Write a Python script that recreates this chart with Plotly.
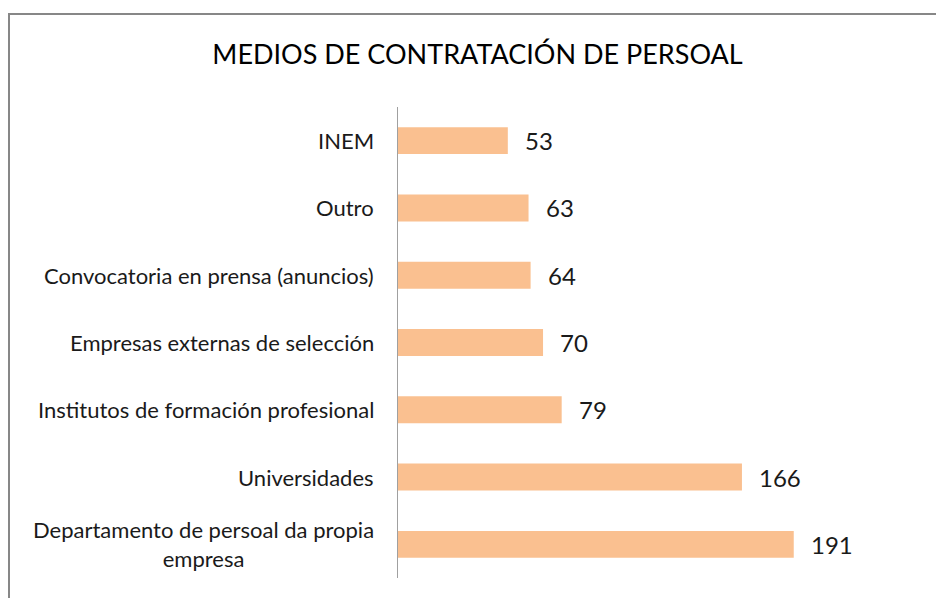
import plotly.graph_objects as go

categories = [
    "INEM",
    "Outro",
    "Convocatoria en prensa (anuncios)",
    "Empresas externas de selección",
    "Institutos de formación profesional",
    "Universidades",
    "Departamento de persoal da propia<br>empresa",
]
values = [53, 63, 64, 70, 79, 166, 191]
title_text = "MEDIOS DE CONTRATACIÓN DE PERSOAL"

FONT = "Lato"
TXT = "#1a1a1a"

fig = go.Figure(go.Bar(
    x=values, y=categories, orientation="h",
    marker=dict(color="#FAC090", line=dict(width=0)),
    width=0.4, hoverinfo="x+y",
))

annotations = []
for c, v in zip(categories, values):
    annotations.append(dict(
        x=0, y=c, xref="x", yref="y", text=c, showarrow=False,
        xanchor="right", yanchor="middle", xshift=-22, align="center",
        font=dict(family=FONT, size=22, color=TXT),
    ))
    annotations.append(dict(
        x=v, y=c, xref="x", yref="y", text=str(v), showarrow=False,
        xanchor="left", yanchor="middle", xshift=15,
        font=dict(family=FONT, size=24, color=TXT),
    ))

fig.update_layout(
    width=936, height=598,
    margin=dict(l=398, r=20, t=107, b=20),
    paper_bgcolor="white", plot_bgcolor="white",
    showlegend=False,
    title=dict(text=title_text, xref="paper", x=0.1535, xanchor="center",
               yref="container", y=1 - 55 / 598, yanchor="middle",
               font=dict(family=FONT, size=27, color="#000000")),
    xaxis=dict(range=[0, 250], visible=False, fixedrange=True),
    yaxis=dict(autorange="reversed", showticklabels=False, showgrid=False,
               zeroline=False, showline=True, linecolor="#A0A0A0", linewidth=1,
               ticks="", fixedrange=True),
    annotations=annotations,
    shapes=[dict(type="rect", xref="paper", yref="paper",
                 x0=(9 - 398) / 518, x1=1.2, y0=-0.2, y1=1 + (107 - 14) / 471,
                 line=dict(color="#878787", width=2), layer="below")],
)

fig.write_html("out.html", config={"displayModeBar": False},
               post_script="document.body.style.margin='0';document.body.style.overflow='hidden';")
